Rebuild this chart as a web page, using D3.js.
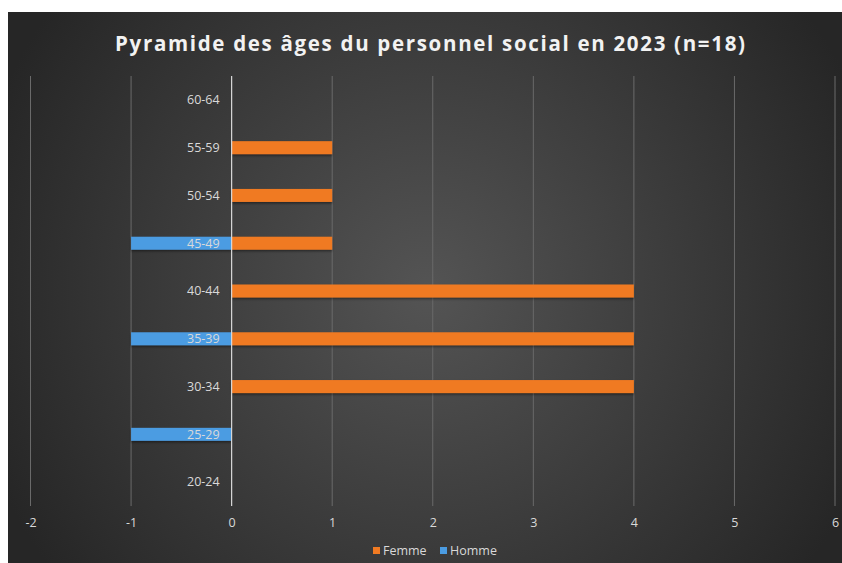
<!DOCTYPE html>
<html>
<head>
<meta charset="utf-8">
<script src="https://cdn.jsdelivr.net/npm/d3@7"></script>
<style>
  html, body { margin: 0; padding: 0; background: #ffffff; }
  svg { display: block; }
</style>
</head>
<body>
<svg id="chart" width="842" height="563"></svg>
<script>
// Age groups, bottom to top as drawn
const ageGroups = ["20-24", "25-29", "30-34", "35-39", "40-44", "45-49", "50-54", "55-59", "60-64"];
// Women counted on the positive side, men on the negative side
const femme = [0, 0, 4, 4, 4, 1, 1, 1, 0];
const homme = [0, -1, 0, -1, 0, -1, 0, 0, 0];
const xTicks = [-2, -1, 0, 1, 2, 3, 4, 5, 6];
const seriesNames = ["Femme", "Homme"];
const seriesColors = ["#f07a22", "#4b9ce2"];
const titleText = "Pyramide des âges du personnel social en 2023 (n=18)";

const svg = d3.select("#chart");
const W = 842, H = 563;
const font = "'Open Sans', 'Noto Sans', sans-serif";

const defs = svg.append("defs");
const grad = defs.append("radialGradient")
  .attr("id", "bg").attr("gradientUnits", "userSpaceOnUse")
  .attr("cx", 428).attr("cy", 290).attr("r", 470);
grad.append("stop").attr("offset", "0%").attr("stop-color", "#545454");
grad.append("stop").attr("offset", "100%").attr("stop-color", "#262626");

const shadow = defs.append("filter").attr("id", "shadow")
  .attr("x", "-5%").attr("y", "-40%").attr("width", "110%").attr("height", "200%");
shadow.append("feDropShadow").attr("dx", 0).attr("dy", 1.5).attr("stdDeviation", 1.2)
  .attr("flood-color", "#000").attr("flood-opacity", 0.45);

svg.append("rect").attr("x", 8).attr("y", 12).attr("width", W - 8).attr("height", H - 12)
  .attr("fill", "url(#bg)");

// Title
svg.append("text")
  .attr("x", 115).attr("y", 51)
  .attr("fill", "#f2f2f2")
  .attr("font-family", font)
  .attr("font-weight", 700)
  .attr("font-size", 20.5)
  .attr("textLength", 630)
  .attr("lengthAdjust", "spacing")
  .text(titleText);

const x = d3.scaleLinear().domain([-2, 6]).range([30.5, 835]);
const y = d3.scaleBand().domain(ageGroups).range([506, 76]).paddingInner(0).paddingOuter(0);
const barH = 13;

// Vertical gridlines
svg.append("g").selectAll("line").data(xTicks.filter(d => d !== 0)).join("line")
  .attr("x1", d => x(d)).attr("x2", d => x(d))
  .attr("y1", 76).attr("y2", 506)
  .attr("stroke", "#6a6a6a").attr("stroke-width", 1);

// Bars
const rows = ageGroups.map((g, i) => ({ g, f: femme[i], h: homme[i] }));
const barG = svg.append("g").attr("filter", "url(#shadow)");
barG.selectAll("rect.f").data(rows.filter(d => d.f !== 0)).join("rect")
  .attr("class", "f")
  .attr("x", d => x(Math.min(0, d.f)))
  .attr("width", d => Math.abs(x(d.f) - x(0)))
  .attr("y", d => y(d.g) + y.bandwidth() / 2 - barH / 2)
  .attr("height", barH)
  .attr("fill", seriesColors[0]);
barG.selectAll("rect.h").data(rows.filter(d => d.h !== 0)).join("rect")
  .attr("class", "h")
  .attr("x", d => x(Math.min(0, d.h)))
  .attr("width", d => Math.abs(x(d.h) - x(0)))
  .attr("y", d => y(d.g) + y.bandwidth() / 2 - barH / 2)
  .attr("height", barH)
  .attr("fill", seriesColors[1]);

// Zero axis line
svg.append("line")
  .attr("x1", x(0)).attr("x2", x(0)).attr("y1", 76).attr("y2", 506)
  .attr("stroke", "#d9d9d9").attr("stroke-width", 1.2);

// Category labels sit just left of the zero line, over the bars
const yAxis = d3.axisLeft(y).tickSize(0).tickPadding(0);
const yG = svg.append("g").attr("transform", `translate(${x(0) - 12},0)`).call(yAxis);
yG.select(".domain").remove();
yG.selectAll("text")
  .attr("fill", "#d9d9d9").attr("font-family", font).attr("font-size", 12.5)
  .attr("dy", "0.35em");

// Value axis at the bottom
const xAxis = d3.axisBottom(x).tickValues(xTicks).tickSize(0).tickPadding(0).tickFormat(d => String(d));
const xG = svg.append("g").attr("transform", "translate(0,523)").call(xAxis);
xG.select(".domain").remove();
xG.selectAll("text")
  .attr("fill", "#d9d9d9").attr("font-family", font).attr("font-size", 12.5)
  .attr("dy", "0.35em");

// Legend
const legend = svg.append("g").attr("font-family", font).attr("font-size", 12.5);
const legendItems = [
  { name: seriesNames[0], color: seriesColors[0], x: 373 },
  { name: seriesNames[1], color: seriesColors[1], x: 440 }
];
const li = legend.selectAll("g").data(legendItems).join("g")
  .attr("transform", d => `translate(${d.x},551)`);
li.append("rect").attr("x", 0).attr("y", -4).attr("width", 7).attr("height", 7)
  .attr("fill", d => d.color);
li.append("text").attr("x", 10).attr("dy", "0.35em").attr("fill", "#d9d9d9")
  .text(d => d.name);
</script>
</body>
</html>
